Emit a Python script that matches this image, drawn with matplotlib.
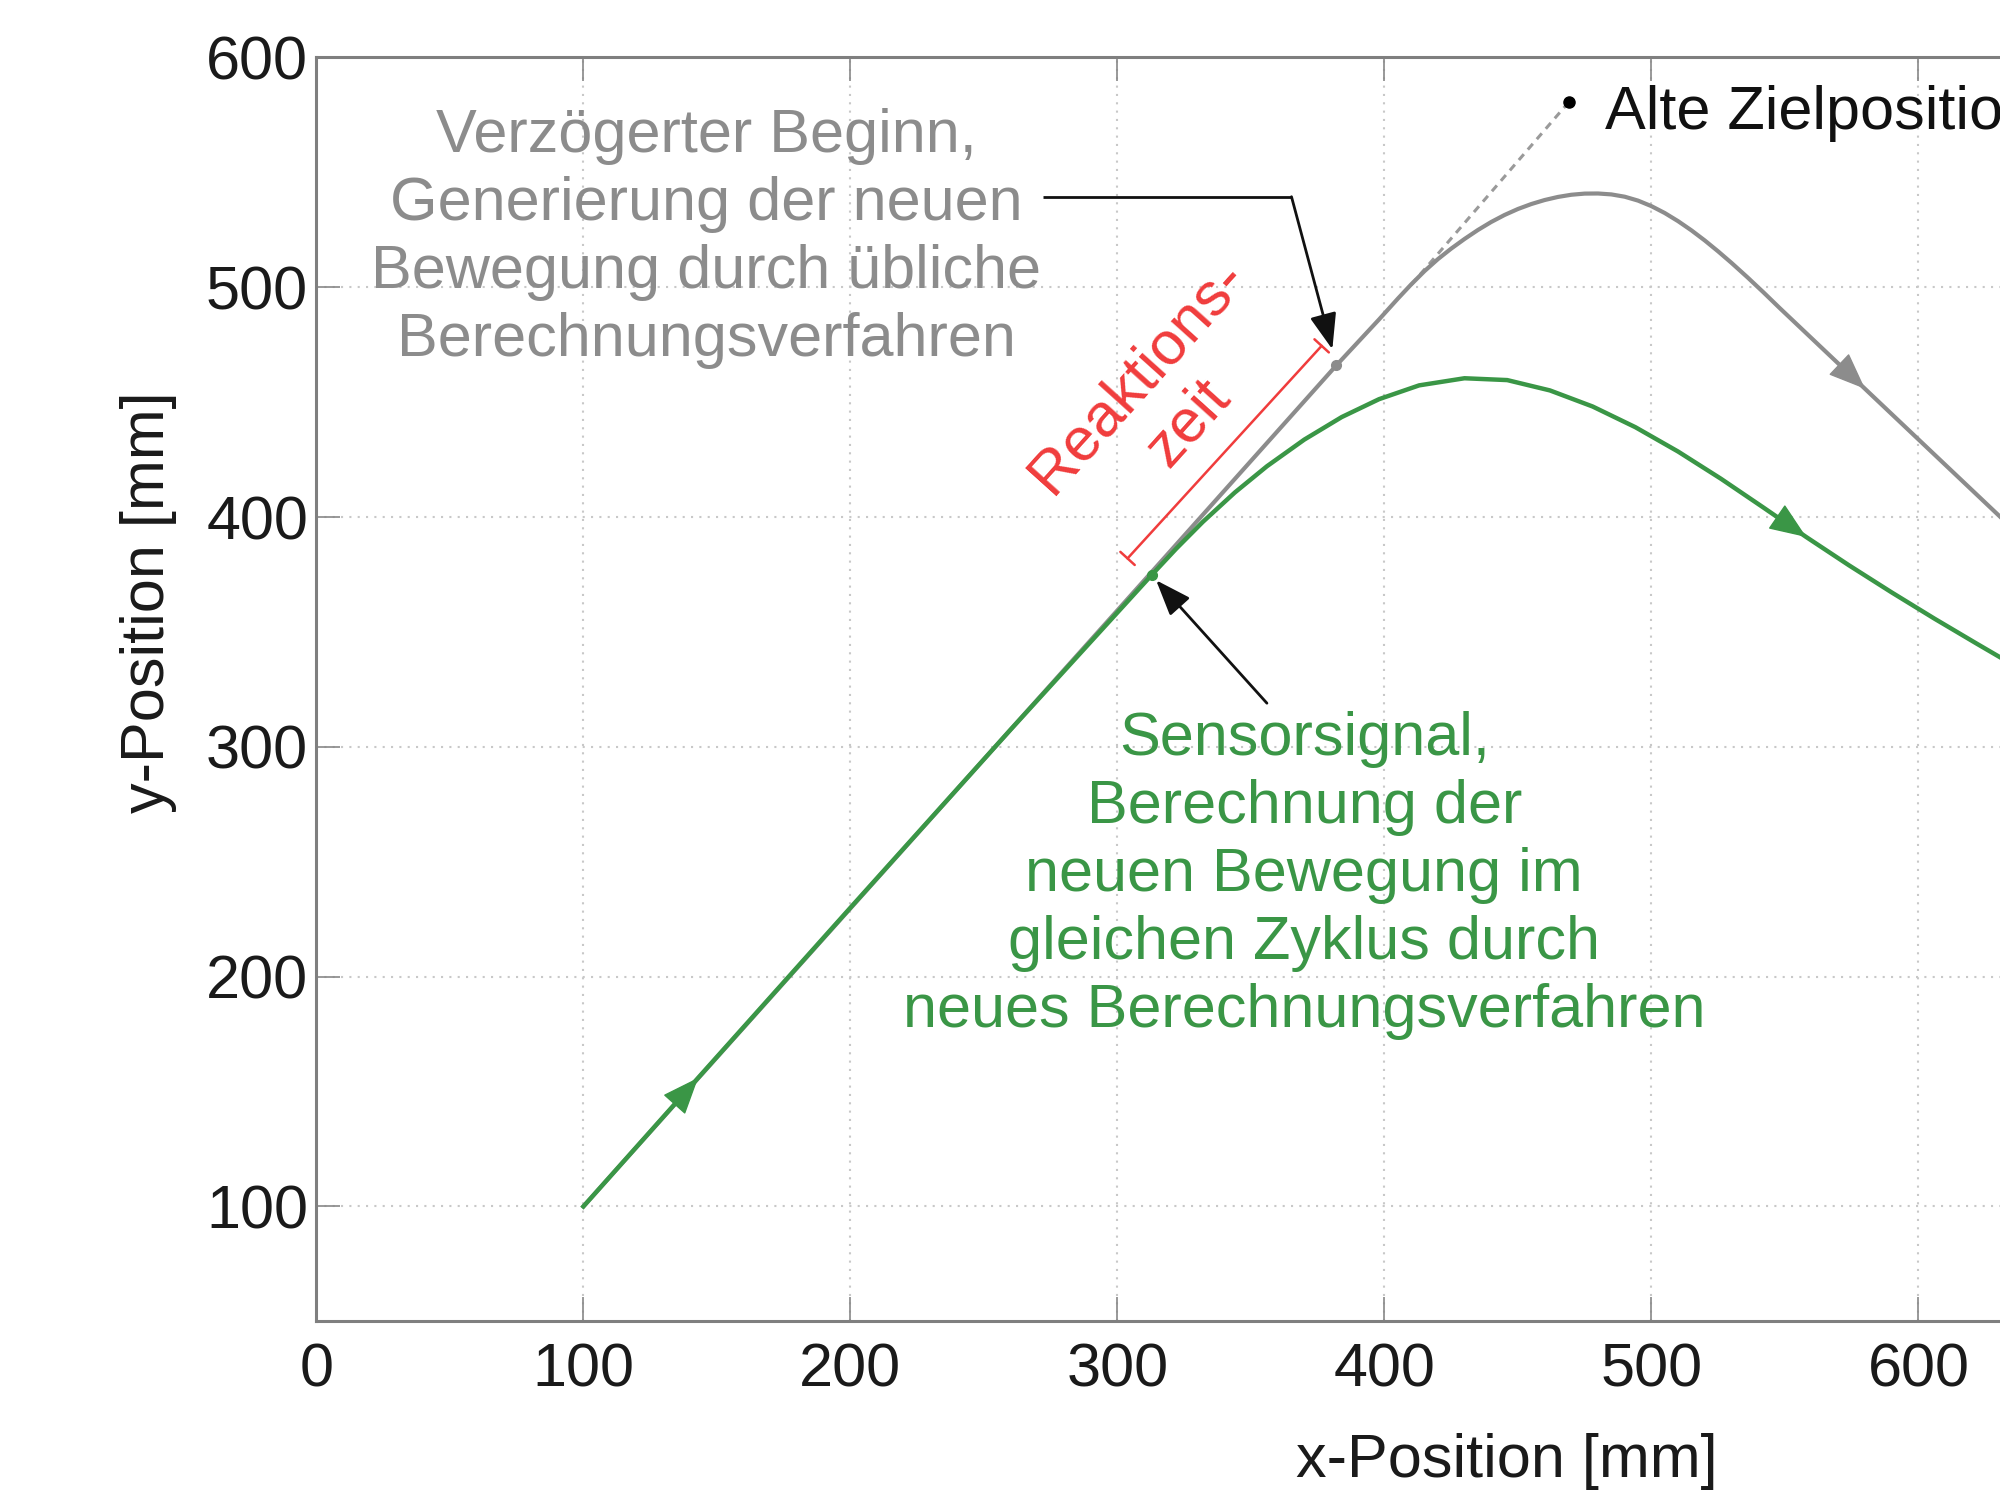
import matplotlib
matplotlib.use("Agg")
import matplotlib.pyplot as plt

plt.rcParams['font.family'] = ['Liberation Sans', 'DejaVu Sans']

# neue Bewegung (gruen), Werte in mm
green_x = [100, 143, 200, 260, 313, 322, 332, 344, 356, 370, 384, 398, 413, 430, 446,
           462, 478, 494, 510, 526, 542, 558, 574, 590, 606, 622, 640]
green_y = [100, 156, 230, 307.5, 375, 386.2, 397.9, 410.7, 422.1, 433.7, 443.5, 451.3, 457.3, 460.4, 459.6,
           455.1, 448.1, 439.1, 428.5, 416.7, 404.1, 391.3, 379.0, 367.2, 355.8, 344.8, 332.6]

# verzoegerte Bewegung (grau)
gray_x = [100, 200, 300, 382, 398, 405, 410, 415, 420, 425, 430, 435, 440, 445, 450, 455,
          460, 465, 470, 475, 480, 485, 490, 495, 500, 505, 510, 515, 520, 525, 530, 536,
          542, 548, 556, 564, 572, 580, 590, 604, 618, 631, 640]
gray_y = [100, 229.7, 359.4, 466, 486, 495.0, 501.2, 507.0, 512.2, 516.8, 521.0, 524.9, 528.4, 531.45,
          534.05, 536.2, 537.95, 539.3, 540.25, 540.75, 540.8, 540.4, 539.4, 537.7, 535.3, 532.3,
          528.75, 524.75, 520.35, 515.6, 510.6, 504.3, 497.75, 491.0, 482.2, 473.4, 464.6, 455.8,
          444.8, 429.4, 414.0, 399.7, 389.8]

# alte Zielposition und gestrichelte Verlaengerung
old_target = (469, 580.5)
dash_x = [410, 469]
dash_y = [501, 580.5]

sensor_idx = 4      # Sensorsignal auf gruener Kurve
delay_idx = 3       # verzoegerter Beginn auf grauer Kurve
green_arrow_idx = [1, 21]
gray_arrow_idx = [37]

x_ticks = [0, 100, 200, 300, 400, 500, 600]
y_ticks = [100, 200, 300, 400, 500, 600]

GREEN = '#3a9646'
GRAY = '#8c8c8c'
RED = '#f03c3c'
FS = 44

fig = plt.figure(figsize=(20, 15), dpi=100)
ax = fig.add_axes([0.1582, 0.1191, 1.2015, 0.8426])

ax.plot(dash_x, dash_y, color='#9a9a9a', lw=2.2, dashes=(2.5, 2), zorder=2)
ax.plot(gray_x, gray_y, color=GRAY, lw=3.0, zorder=3, solid_joinstyle='round')
ax.plot(green_x, green_y, color=GREEN, lw=3.2, zorder=4, solid_joinstyle='round')
ax.plot([old_target[0]], [old_target[1]], 'o', color='black', ms=8, zorder=5)
ax.plot([green_x[sensor_idx]], [green_y[sensor_idx]], 'o', color=GREEN, ms=7, zorder=6)
ax.plot([gray_x[delay_idx]], [gray_y[delay_idx]], 'o', color=GRAY, ms=7, zorder=6)

for i in green_arrow_idx:
    ax.annotate('', xy=(green_x[i], green_y[i]), xytext=(green_x[i - 1], green_y[i - 1]),
                arrowprops=dict(arrowstyle='-|>,head_length=0.5,head_width=0.2', color=GREEN,
                                lw=1, shrinkA=0, shrinkB=0, mutation_scale=48), zorder=7)
for i in gray_arrow_idx:
    ax.annotate('', xy=(gray_x[i], gray_y[i]), xytext=(gray_x[i - 1], gray_y[i - 1]),
                arrowprops=dict(arrowstyle='-|>,head_length=0.5,head_width=0.2', color=GRAY,
                                lw=1, shrinkA=0, shrinkB=0, mutation_scale=48), zorder=7)

# Texte
ax.text(146, 521, 'Verzögerter Beginn,\nGenerierung der neuen\nBewegung durch übliche\nBerechnungsverfahren',
        color=GRAY, fontsize=FS, ha='center', va='center', multialignment='center', linespacing=1.25)
ax.text(370, 244, 'Sensorsignal,\nBerechnung der\nneuen Bewegung im\ngleichen Zyklus durch\nneues Berechnungsverfahren',
        color=GREEN, fontsize=FS, ha='center', va='center', multialignment='center', linespacing=1.25)
ax.text(317, 451, 'Reaktions-\nzeit', color=RED, fontsize=FS, rotation=48,
        ha='center', va='center', multialignment='center', linespacing=1.25)
ax.text(482.6, 569, 'Alte Zielposition', color='#111111', fontsize=FS, ha='left', va='baseline')

# Pfeile der Beschriftungen
ax.plot([272.3, 365.2], [539.4, 539.4], color='#111111', lw=2.0, zorder=6, solid_capstyle='butt')
ax.annotate('', xy=(380.5, 473), xytext=(365.2, 539.4),
            arrowprops=dict(arrowstyle='-|>,head_length=0.4,head_width=0.15', color='#111111',
                            lw=2.0, shrinkA=0, shrinkB=0, mutation_scale=55), zorder=6)
ax.annotate('', xy=(314.5, 372.5), xytext=(356, 319),
            arrowprops=dict(arrowstyle='-|>,head_length=0.4,head_width=0.15', color='#111111',
                            lw=2.0, shrinkA=0, shrinkB=0, mutation_scale=55), zorder=6)
# Reaktionszeit-Klammer
ax.annotate('', xy=(376.5, 474.5), xytext=(303.8, 382),
            arrowprops=dict(arrowstyle='|-|,widthA=0.35,widthB=0.35', color=RED,
                            lw=1.8, shrinkA=0, shrinkB=0, mutation_scale=20), zorder=6)

ax.set_xlim(0, 900)
ax.set_ylim(50, 600)
ax.set_xticks(x_ticks)
ax.set_yticks(y_ticks)
ax.grid(True, color='#c8c8c8', linestyle=(0, (1, 3)), linewidth=1.5)
ax.set_axisbelow(True)
for s in ax.spines.values():
    s.set_color('#7f7f7f')
    s.set_linewidth(2.2)
ax.tick_params(direction='in', length=17, width=1.2, color='#888888', labelsize=FS,
               labelcolor='#1a1a1a', top=True, right=True)
ax.tick_params(axis='x', pad=15)
ax.tick_params(axis='y', pad=6)

ax.set_xlabel('x-Position [mm]', fontsize=FS, color='#1a1a1a', va='top')
ax.xaxis.set_label_coords(446 / 900, -0.0884)
ax.set_ylabel('y-Position [mm]', fontsize=FS, color='#1a1a1a')
ax.yaxis.set_label_coords(-0.058, 0.569)

fig.savefig('out.png', dpi=100)
